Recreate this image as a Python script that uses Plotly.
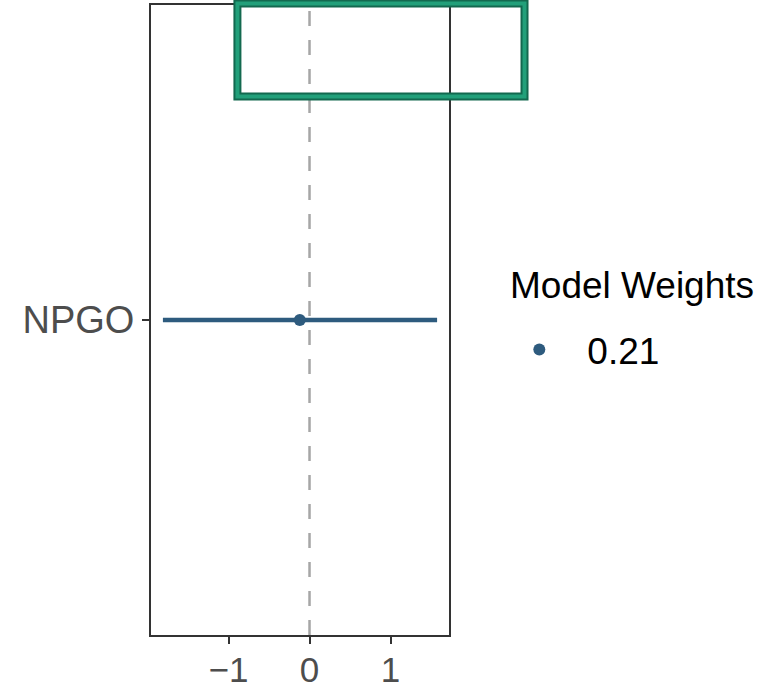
import plotly.graph_objects as go

# Coefficient estimate with its interval
covariates = ["NPGO"]
estimates = [-0.12]
lower = [-1.81]
upper = [1.575]
weight_labels = ["0.21"]

x_ticks = [-1, 0, 1]
x_tick_text = ["\u22121", "0", "1"]

blue = "#2e5b7e"
font_family = "Liberation Sans, Arial, sans-serif"

fig = go.Figure()

# interval segment
for cov, lo, hi in zip(covariates, lower, upper):
    fig.add_trace(go.Scatter(
        x=[lo, hi], y=[cov, cov], mode="lines",
        line=dict(color=blue, width=4.5), showlegend=False, hoverinfo="skip",
    ))

# point estimate (legend entry shows the model weight)
fig.add_trace(go.Scatter(
    x=estimates, y=covariates, mode="markers",
    marker=dict(color=blue, size=12),
    name=weight_labels[0], showlegend=True,
))

# zero reference line
fig.add_shape(type="line", xref="x", yref="paper", x0=0, x1=0, y0=0, y1=1,
              line=dict(color="#a6a6a6", width=2.5, dash="15px,14px"), layer="below")

# highlight box across the top
fig.add_shape(type="rect", xref="paper", yref="paper",
              x0=0.290, x1=1.2534, y0=0.8548, y1=1.0024,
              line=dict(color="#13694f", width=8))
fig.add_shape(type="rect", xref="paper", yref="paper",
              x0=0.290, x1=1.2534, y0=0.8548, y1=1.0024,
              line=dict(color="#22a07a", width=4))

# legend title
fig.add_annotation(text="Model Weights", xref="paper", yref="paper",
                   x=1.198, y=(635 - 285) / 630, xanchor="left", yanchor="middle",
                   showarrow=False, font=dict(size=37, color="black", family=font_family))

fig.update_layout(
    width=761, height=690,
    margin=dict(l=151, r=312, t=5, b=55, autoexpand=False),
    paper_bgcolor="white", plot_bgcolor="white",
    font=dict(family=font_family, color="#4d4d4d"),
    showlegend=True,
    legend=dict(
        font=dict(size=37, color="black", family=font_family),
        x=1.142, xanchor="left", y=(635 - 350) / 630, yanchor="middle",
        itemwidth=86,
        bgcolor="rgba(0,0,0,0)",
    ),
    xaxis=dict(
        range=[-1.957, 1.722], tickvals=x_ticks, ticktext=x_tick_text,
        showgrid=False, zeroline=False, automargin=False,
        showline=True, linecolor="#333333", linewidth=2, mirror=True,
        ticks="outside", ticklen=7, tickwidth=2, tickcolor="#333333",
        tickfont=dict(size=35, color="#4d4d4d"),
        ticklabelstandoff=-4,
    ),
    yaxis=dict(
        showgrid=False, zeroline=False, automargin=False,
        showline=True, linecolor="#333333", linewidth=2, mirror=True,
        ticks="outside", ticklen=7, tickwidth=2, tickcolor="#333333",
        tickfont=dict(size=38, color="#4d4d4d"),
    ),
)

fig.write_html("out.html")
